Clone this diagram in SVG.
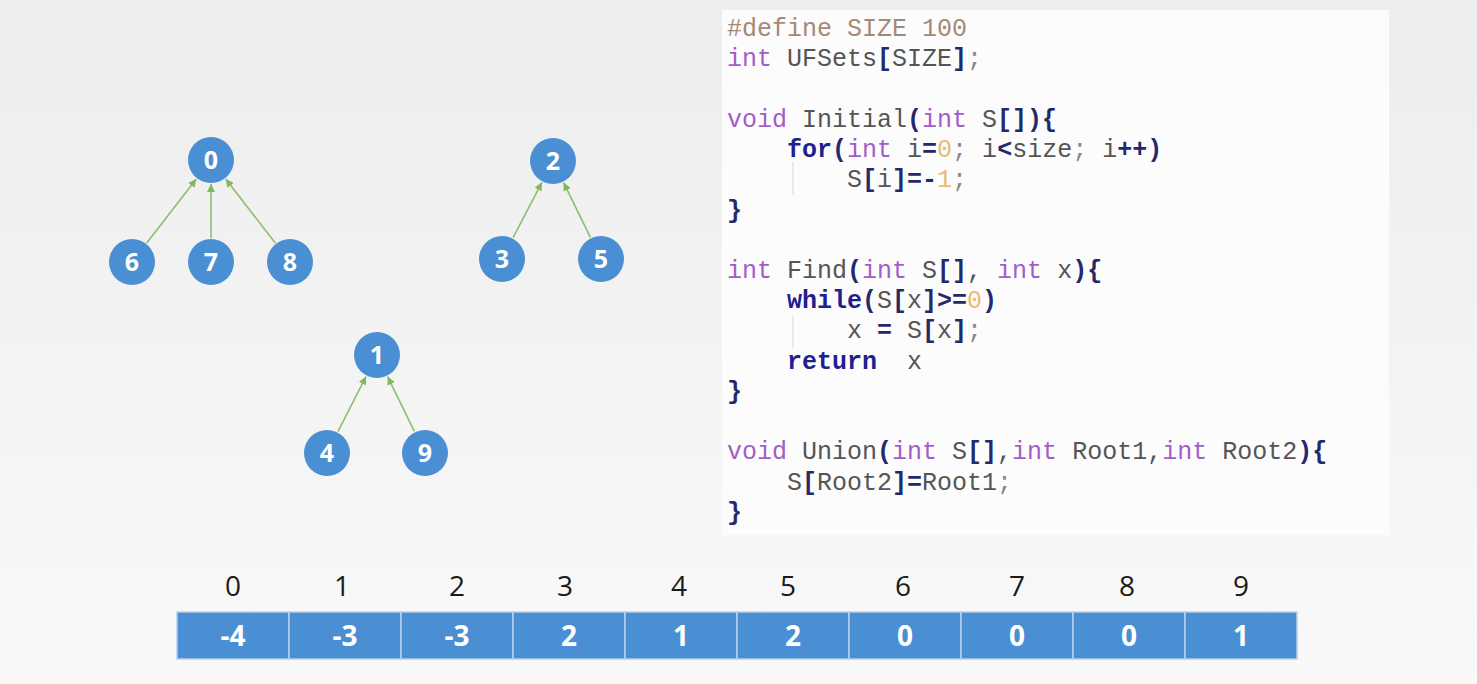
<svg xmlns="http://www.w3.org/2000/svg" width="1477" height="684" viewBox="0 0 1477 684">
<defs>
<linearGradient id="bg" x1="0" y1="0" x2="0" y2="1">
<stop offset="0" stop-color="#ededed"/>
<stop offset="1" stop-color="#f9f9f9"/>
</linearGradient>
<marker id="arr" viewBox="0 0 8 8" refX="8" refY="4" markerWidth="8" markerHeight="8" markerUnits="userSpaceOnUse" orient="auto">
<path d="M0,0 L8,4 L0,8 z" fill="#7fb85e"/>
</marker>
<style>
.node circle{fill:#4a8fd3;}
.node text{fill:#ffffff;font-family:"Open Sans","Noto Sans",sans-serif;font-weight:bold;font-size:25px;text-anchor:middle;}
.edge{stroke:#8cbf6e;stroke-width:1.6;fill:none;marker-end:url(#arr);}
.cell{fill:#4a8fd3;stroke:#b5d0ee;stroke-width:1.5;}
.val{fill:#ffffff;font-family:"Open Sans","Noto Sans",sans-serif;font-weight:bold;font-size:28px;text-anchor:middle;}
.idx{fill:#1a1a1a;font-family:"Open Sans","Noto Sans",sans-serif;font-size:28px;text-anchor:middle;}
.code text{font-family:"Liberation Mono","Courier New",monospace;font-size:25px;fill:#555555;white-space:pre;}
.pp{fill:#a48a74;}
.ty{fill:#a35cc8;}
.kw{fill:#1f1f8e;font-weight:bold;}
.br{fill:#25296a;font-weight:bold;}
.nu{fill:#e9bb70;}
.sc{fill:#888888;}
.guide{stroke:#dcdcdc;stroke-width:1.2;}
</style>
</defs>
<rect x="0" y="0" width="1477" height="684" fill="url(#bg)"/>

<g id="code-panel">
<rect x="722" y="10" width="667" height="525" fill="#fcfcfd"/>
<line class="guide" x1="793" y1="162" x2="793" y2="195"/>
<line class="guide" x1="793" y1="316" x2="793" y2="348"/>
<g class="code">
<text x="727" y="36"><tspan class="pp">#define SIZE 100</tspan></text>
<text x="727" y="66"><tspan class="ty">int</tspan> UFSets<tspan class="br">[</tspan>SIZE<tspan class="br">]</tspan><tspan class="sc">;</tspan></text>
<text x="727" y="127"><tspan class="ty">void</tspan> Initial<tspan class="br">(</tspan><tspan class="ty">int</tspan> S<tspan class="br">[]){</tspan></text>
<text x="787" y="157"><tspan class="kw">for</tspan><tspan class="br">(</tspan><tspan class="ty">int</tspan> i<tspan class="br">=</tspan><tspan class="nu">0</tspan><tspan class="sc">;</tspan> i<tspan class="br">&lt;</tspan>size<tspan class="sc">;</tspan> i<tspan class="br">++)</tspan></text>
<text x="847" y="187">S<tspan class="br">[</tspan>i<tspan class="br">]=-</tspan><tspan class="nu">1</tspan><tspan class="sc">;</tspan></text>
<text x="727" y="218"><tspan class="br">}</tspan></text>
<text x="727" y="278"><tspan class="ty">int</tspan> Find<tspan class="br">(</tspan><tspan class="ty">int</tspan> S<tspan class="br">[]</tspan>, <tspan class="ty">int</tspan> x<tspan class="br">){</tspan></text>
<text x="787" y="308"><tspan class="kw">while</tspan><tspan class="br">(</tspan>S<tspan class="br">[</tspan>x<tspan class="br">]&gt;=</tspan><tspan class="nu">0</tspan><tspan class="br">)</tspan></text>
<text x="847" y="338">x <tspan class="br">=</tspan> S<tspan class="br">[</tspan>x<tspan class="br">]</tspan><tspan class="sc">;</tspan></text>
<text x="787" y="369"><tspan class="kw">return</tspan>  x</text>
<text x="727" y="399"><tspan class="br">}</tspan></text>
<text x="727" y="459"><tspan class="ty">void</tspan> Union<tspan class="br">(</tspan><tspan class="ty">int</tspan> S<tspan class="br">[]</tspan>,<tspan class="ty">int</tspan> Root1,<tspan class="ty">int</tspan> Root2<tspan class="br">){</tspan></text>
<text x="787" y="490">S<tspan class="br">[</tspan>Root2<tspan class="br">]=</tspan>Root1<tspan class="sc">;</tspan></text>
<text x="727" y="520"><tspan class="br">}</tspan></text>
</g>
</g>

<g id="connectors">
<line class="edge" x1="146.7" y1="243" x2="196.3" y2="179"/>
<line class="edge" x1="211" y1="238" x2="211" y2="184"/>
<line class="edge" x1="275.3" y1="243" x2="225.7" y2="179"/>
<line class="edge" x1="513.1" y1="237.7" x2="541.9" y2="182.3"/>
<line class="edge" x1="590.4" y1="237.4" x2="563.6" y2="182.6"/>
<line class="edge" x1="337.9" y1="431.6" x2="366.1" y2="376.4"/>
<line class="edge" x1="414.4" y1="431.4" x2="387.6" y2="376.6"/>
</g>

<g id="node-0" class="node"><circle cx="211" cy="160" r="23"/><text x="211" y="169">0</text></g>
<g id="node-6" class="node"><circle cx="132" cy="262" r="23"/><text x="132" y="271">6</text></g>
<g id="node-7" class="node"><circle cx="211" cy="262" r="23"/><text x="211" y="271">7</text></g>
<g id="node-8" class="node"><circle cx="290" cy="262" r="23"/><text x="290" y="271">8</text></g>
<g id="node-2" class="node"><circle cx="553" cy="161" r="23"/><text x="553" y="170">2</text></g>
<g id="node-3" class="node"><circle cx="502" cy="259" r="23"/><text x="502" y="268">3</text></g>
<g id="node-5" class="node"><circle cx="601" cy="259" r="23"/><text x="601" y="268">5</text></g>
<g id="node-1" class="node"><circle cx="377" cy="355" r="23"/><text x="377" y="364">1</text></g>
<g id="node-4" class="node"><circle cx="327" cy="453" r="23"/><text x="327" y="462">4</text></g>
<g id="node-9" class="node"><circle cx="425" cy="453" r="23"/><text x="425" y="462">9</text></g>

<g id="array">
<rect class="cell" x="177" y="612" width="112" height="47"/>
<rect class="cell" x="289" y="612" width="112" height="47"/>
<rect class="cell" x="401" y="612" width="112" height="47"/>
<rect class="cell" x="513" y="612" width="112" height="47"/>
<rect class="cell" x="625" y="612" width="112" height="47"/>
<rect class="cell" x="737" y="612" width="112" height="47"/>
<rect class="cell" x="849" y="612" width="112" height="47"/>
<rect class="cell" x="961" y="612" width="112" height="47"/>
<rect class="cell" x="1073" y="612" width="112" height="47"/>
<rect class="cell" x="1185" y="612" width="112" height="47"/>
<text class="val" x="233" y="646">-4</text>
<text class="val" x="345" y="646">-3</text>
<text class="val" x="457" y="646">-3</text>
<text class="val" x="569" y="646">2</text>
<text class="val" x="681" y="646">1</text>
<text class="val" x="793" y="646">2</text>
<text class="val" x="905" y="646">0</text>
<text class="val" x="1017" y="646">0</text>
<text class="val" x="1129" y="646">0</text>
<text class="val" x="1241" y="646">1</text>
<text class="idx" x="233" y="596">0</text>
<text class="idx" x="342" y="596">1</text>
<text class="idx" x="457" y="596">2</text>
<text class="idx" x="565" y="596">3</text>
<text class="idx" x="679" y="596">4</text>
<text class="idx" x="788" y="596">5</text>
<text class="idx" x="903" y="596">6</text>
<text class="idx" x="1017" y="596">7</text>
<text class="idx" x="1127" y="596">8</text>
<text class="idx" x="1241" y="596">9</text>
</g>
</svg>
